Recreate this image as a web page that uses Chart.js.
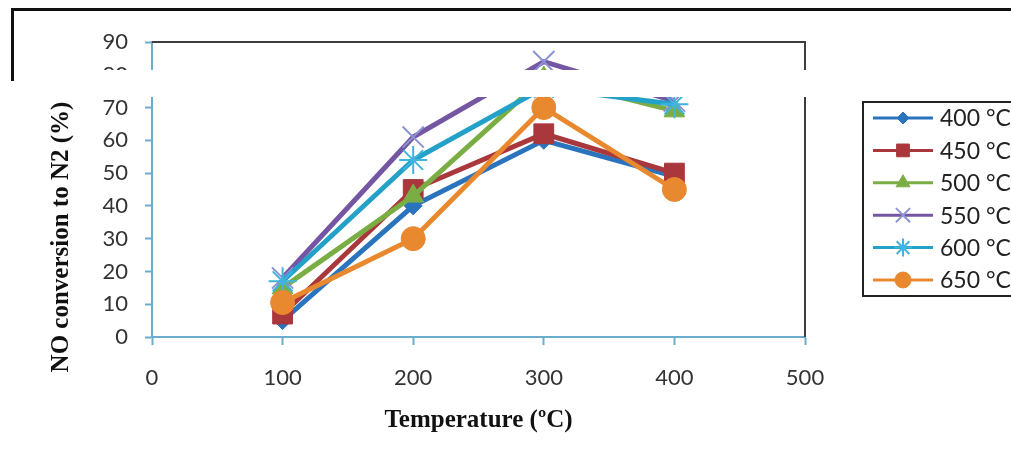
<!DOCTYPE html>
<html>
<head>
<meta charset="utf-8">
<script src="https://cdn.jsdelivr.net/npm/chart.js@4/dist/chart.umd.min.js"></script>
<style>
  html, body { margin: 0; padding: 0; background: #fff; overflow: hidden; }
  #wrap { position: relative; width: 1011px; height: 460px; }
  #chart { position: absolute; left: 0; top: 0; }
  /* scan artefacts of the source figure: outer frame and the blank strip */
  .frame-top  { position: absolute; left: 11px; top: 8px; width: 1000px; height: 3px; background: #111; }
  .frame-left { position: absolute; left: 11px; top: 8px; width: 3px; height: 73px; background: #111; }
  .band       { position: absolute; left: 17px; top: 70px; width: 994px; height: 27px; background: #fff; }
</style>
</head>
<body>
<div id="wrap">
  <canvas id="chart" width="1011" height="460"></canvas>
  <div class="frame-top"></div>
  <div class="frame-left"></div>
  <div class="band"></div>
</div>
<script>
// ── Data ───────────────────────────────────────────────────
const temps     = [100, 200, 300, 400];
const labels    = ['400 °C', '450 °C', '500 °C', '550 °C', '600 °C', '650 °C'];
const conv400   = [5, 40, 60, 49];
const conv450   = [7, 45, 62, 50];
const conv500   = [15, 43, 79, 69];
const conv550   = [18, 61, 84, 72];
const conv600   = [17, 54, 76, 71];
const conv650   = [10.5, 30, 70, 45];
const xTicks    = [0, 100, 200, 300, 400, 500];
const yTicks    = [0, 10, 20, 30, 40, 50, 60, 70, 80, 90];

const series = [conv400, conv450, conv500, conv550, conv600, conv650];

// line colour, marker colour, marker style, radius (plot / legend)
const STYLE = [
  { line: '#2a74bd', mark: '#2a74bd', shape: 'rectRot',  r: 9,  lr: 6,  bw: 1 },
  { line: '#a9373b', mark: '#a9373b', shape: 'rect',     r: 14, lr: 9,  bw: 1 },
  { line: '#7aae44', mark: '#7aae44', shape: 'triangle', r: 12, lr: 8,  bw: 1 },
  { line: '#7556a3', mark: '#8c93d2', shape: 'crossRot', r: 15, lr: 10, bw: 2 },
  { line: '#24a1c9', mark: '#3fb4e0', shape: 'star',     r: 14, lr: 9,  bw: 2 },
  { line: '#e8892f', mark: '#e8892f', shape: 'circle',   r: 12, lr: 8,  bw: 1 }
];

const AXIS = '#6aaccc';
const TICK_FONT  = { family: 'Lato', size: 22 };
const TITLE_FONT = { family: 'Liberation Serif', size: 25, weight: 'bold' };

const datasets = series.map((vals, i) => ({
  label: labels[i],
  data: temps.map((t, k) => ({ x: t, y: vals[k] })),
  borderColor: STYLE[i].line,
  backgroundColor: STYLE[i].mark,
  pointBackgroundColor: STYLE[i].mark,
  pointBorderColor: STYLE[i].mark,
  pointStyle: STYLE[i].shape,
  pointRadius: STYLE[i].r,
  pointBorderWidth: STYLE[i].bw,
  borderWidth: 5,
  tension: 0,
  order: series.length - i      // later series sit on top, like the original
}));

// top + right edge of the plot box
const plotBox = {
  id: 'plotBox',
  afterDraw(chart) {
    const { ctx, chartArea: a } = chart;
    ctx.save();
    ctx.strokeStyle = '#3d3d3d';
    ctx.lineWidth = 2;
    ctx.beginPath();
    ctx.moveTo(a.left, a.top);
    ctx.lineTo(a.right, a.top);
    ctx.lineTo(a.right, a.bottom);
    ctx.stroke();
    ctx.restore();
  }
};

// rotated y title (sits lower than the axis centre in the original)
const yTitle = {
  id: 'yTitle',
  afterDraw(chart) {
    const ctx = chart.ctx;
    ctx.save();
    ctx.translate(62, 237);
    ctx.rotate(-Math.PI / 2);
    ctx.font = 'bold 25px "Liberation Serif"';
    ctx.fillStyle = '#111';
    ctx.textAlign = 'center';
    ctx.textBaseline = 'middle';
    ctx.fillText('NO conversion to N2 (%)', 0, 0);
    ctx.restore();
  }
};

// boxed legend on the right, cut by the page edge
const sideLegend = {
  id: 'sideLegend',
  afterDraw(chart) {
    const ctx = chart.ctx;
    const x0 = 863, y0 = 102, h = 194;
    ctx.save();
    ctx.strokeStyle = '#222';
    ctx.lineWidth = 2;
    ctx.strokeRect(x0, y0, 220, h);
    chart.data.datasets.forEach((d, i) => {
      const y = 118 + i * 32.4;
      const st = STYLE[i];
      ctx.strokeStyle = st.line;
      ctx.lineWidth = 3;
      ctx.beginPath();
      ctx.moveTo(873, y);
      ctx.lineTo(933, y);
      ctx.stroke();
      ctx.fillStyle = st.mark;
      ctx.strokeStyle = st.mark;
      ctx.lineWidth = st.bw;
      Chart.helpers.drawPoint(ctx, { pointStyle: st.shape, radius: st.lr, rotation: 0, borderWidth: st.bw }, 903, y);
      ctx.fillStyle = '#222';
      ctx.font = '23px Lato';
      ctx.textAlign = 'left';
      ctx.textBaseline = 'middle';
      ctx.fillText(d.label, 940, y + 1);
    });
    ctx.restore();
  }
};

new Chart(document.getElementById('chart'), {
  type: 'line',
  data: { datasets },
  plugins: [plotBox, yTitle, sideLegend],
  options: {
    responsive: false,
    animation: false,
    layout: { padding: { left: 0, right: 206, top: 42, bottom: 0 } },
    plugins: { legend: { display: false }, tooltip: { enabled: false } },
    scales: {
      x: {
        type: 'linear', min: xTicks[0], max: xTicks[xTicks.length - 1],
        afterFit: s => { s.height = 123; },
        afterBuildTicks: s => { s.ticks = xTicks.map(v => ({ value: v })); },
        border: { color: AXIS, width: 2 },
        grid: { drawOnChartArea: false, drawTicks: true, tickLength: 8, color: AXIS, tickColor: AXIS, tickWidth: 2 },
        ticks: { font: TICK_FONT, color: '#333', padding: 20 },
        title: { display: true, text: 'Temperature (ºC)', font: TITLE_FONT, color: '#111', padding: { top: 0, bottom: 24 } }
      },
      y: {
        min: yTicks[0], max: yTicks[yTicks.length - 1],
        afterFit: s => { s.width = 152; },
        afterBuildTicks: s => { s.ticks = yTicks.map(v => ({ value: v })); },
        border: { color: AXIS, width: 2 },
        grid: { drawOnChartArea: false, drawTicks: true, tickLength: 7, color: AXIS, tickColor: AXIS, tickWidth: 2 },
        ticks: { font: TICK_FONT, color: '#333', padding: 17 }
      }
    }
  }
});
</script>
</body>
</html>
